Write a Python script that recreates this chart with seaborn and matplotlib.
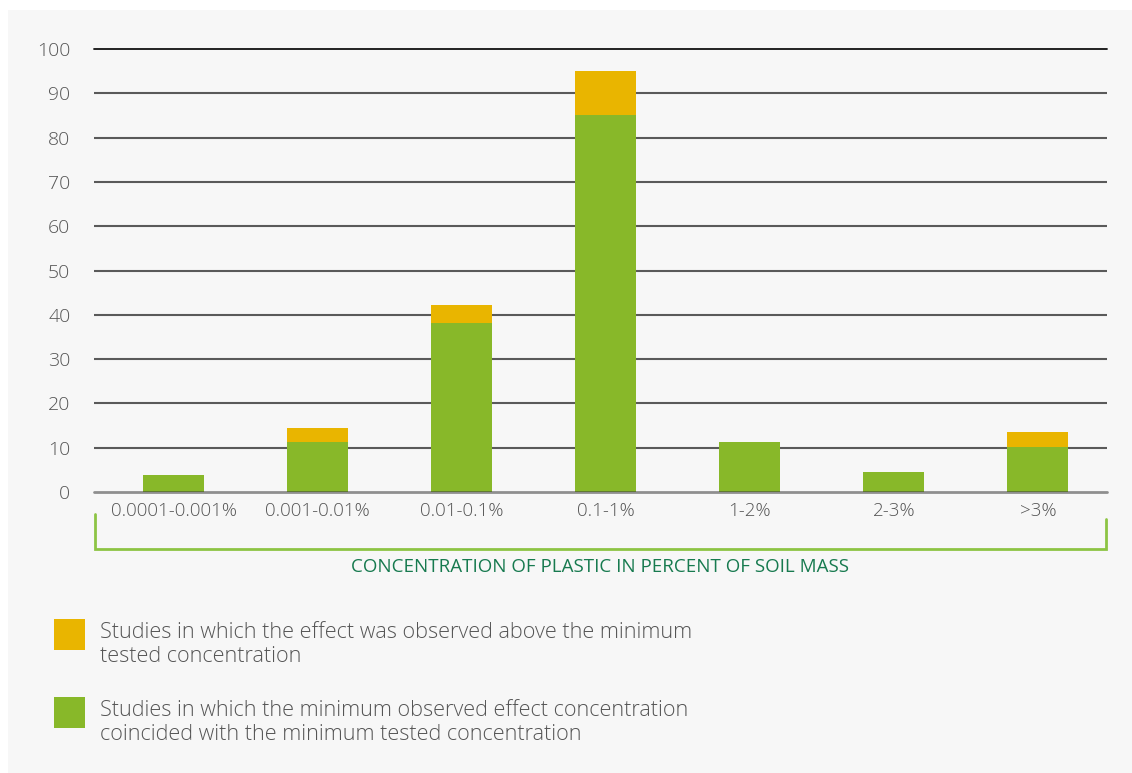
import matplotlib
matplotlib.use("Agg")
import matplotlib.pyplot as plt
from matplotlib.patches import Rectangle
from matplotlib.lines import Line2D
import seaborn as sns
import pandas as pd

# Concentration classes and study counts
categories = ["0.0001-0.001%", "0.001-0.01%", "0.01-0.1%", "0.1-1%", "1-2%", "2-3%", ">3%"]
coincided = [3.8, 11.2, 38.1, 85, 11.2, 4.5, 10.1]     # green part
above_min = [0.0, 3.2, 4.1, 10, 0.0, 0.0, 3.4]        # yellow part stacked on top
y_ticks = [0, 10, 20, 30, 40, 50, 60, 70, 80, 90, 100]

legend_labels = [
    ["Studies in which the effect was observed above the minimum",
     "tested concentration"],
    ["Studies in which the minimum observed effect concentration",
     "coincided with the minimum tested concentration"],
]
x_title = "CONCENTRATION OF PLASTIC IN PERCENT OF SOIL MASS"

YELLOW = "#E9B500"
GREEN = "#88B829"
PANEL = "#F7F7F7"
TEXT = "#555555"
TITLE_GREEN = "#177A4F"
BRACKET = "#8DC444"

sns.set_theme(style="white")
plt.rcParams["font.family"] = ["Open Sans", "DejaVu Sans"]

df = pd.DataFrame({
    "category": categories,
    "coincided": coincided,
    "total": [g + y for g, y in zip(coincided, above_min)],
})

W, H = 1132, 773
fig = plt.figure(figsize=(W / 100, H / 100), dpi=100, facecolor="white")

# light grey panel behind everything
fig.patches.append(Rectangle((8 / W, 0), 1 - 8 / W, 1 - 10 / H,
                             transform=fig.transFigure, facecolor=PANEL,
                             edgecolor="none", zorder=-5))

ax = fig.add_axes([94 / W, 1 - 492 / H, (1107 - 94) / W, (492 - 49) / H])
ax.set_facecolor("none")
ax.set_zorder(2)

bw = 0.424
sns.barplot(data=df, x="category", y="total", color=YELLOW, saturation=1,
            width=bw, ax=ax, zorder=3, linewidth=0)
sns.barplot(data=df, x="category", y="coincided", color=GREEN, saturation=1,
            width=bw, ax=ax, zorder=3, linewidth=0)

ax.set_xlim(-0.552, 6.48)
ax.set_ylim(0, 100)
ax.set_yticks(y_ticks)
ax.set_yticklabels([str(t) for t in y_ticks])
for s in ax.spines.values():
    s.set_visible(False)

# horizontal rules
for t in y_ticks:
    if t == 100:
        ax.axhline(t, color="#111111", lw=1.3, zorder=1, clip_on=False)
    elif t == 0:
        ax.axhline(t, color="#3a3a3a", lw=2.0, alpha=0.55, zorder=4, clip_on=False)
    else:
        ax.axhline(t, color="#5a5a5a", lw=1.5, zorder=1)

ax.tick_params(axis="both", length=0, colors=TEXT)
ax.tick_params(axis="y", pad=17, labelsize=14)
ax.tick_params(axis="x", pad=7, labelsize=13.5)
ax.set_xlabel("")
ax.set_ylabel("")
for lab in ax.get_xticklabels() + ax.get_yticklabels():
    lab.set_color(TEXT)
    lab.set_fontweight("light")

# bracket under the category labels
def fx(px):
    return px / W

def fy(py):
    return 1 - py / H

bracket = Line2D([fx(95), fx(95), fx(1106), fx(1106)],
                 [fy(514), fy(549), fy(549), fy(519)],
                 transform=fig.transFigure, color=BRACKET, lw=2.0,
                 solid_joinstyle="miter")
fig.lines.append(bracket)

fig.text(fx(600), fy(567), x_title, ha="center", va="center",
         fontsize=13.5, color=TITLE_GREEN)

# legend
for (top, color, lines) in [(619, YELLOW, legend_labels[0]),
                            (697, GREEN, legend_labels[1])]:
    fig.patches.append(Rectangle((fx(54), fy(top + 31)), 31 / W, 31 / H,
                                 transform=fig.transFigure, facecolor=color,
                                 edgecolor="none"))
    for i, line in enumerate(lines):
        fig.text(fx(100), fy(top + 14 + 24 * i), line, ha="left", va="center",
                 fontsize=15.6, color=TEXT, fontweight="light")

fig.savefig("out.png", dpi=100, facecolor="white")
